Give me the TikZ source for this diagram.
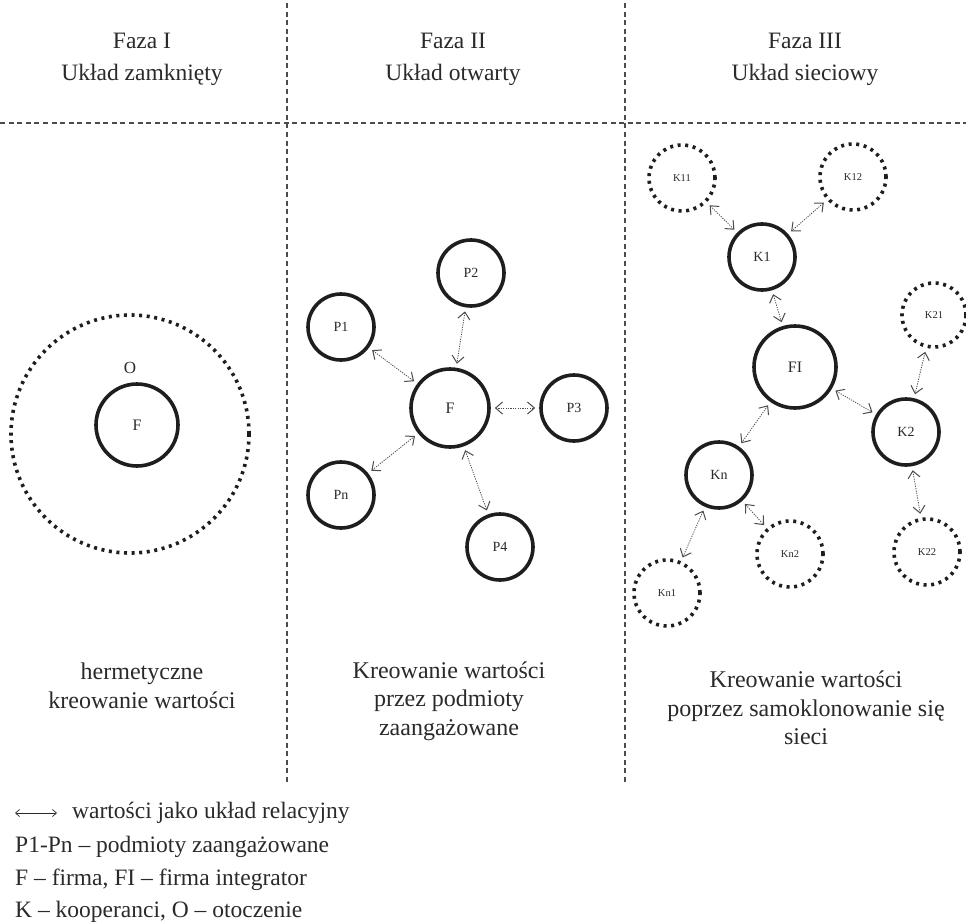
\documentclass[tikz,border=0pt]{standalone}
\usepackage{fontspec}
\setmainfont{Liberation Serif}
\usetikzlibrary{arrows.meta}
\definecolor{ink}{HTML}{1E1E1E}
\definecolor{txt}{HTML}{2A2A2A}
\tikzset{
  solidc/.style={circle, draw=ink, line width=3.6pt, inner sep=0pt, text=txt},
  dotc/.style={circle, draw=ink, line width=3.6pt, dash pattern=on 3pt off 4.6pt, inner sep=0pt, text=txt},
  divider/.style={draw=black!70, line width=1.1pt, dash pattern=on 5pt off 3.6pt},
  rel/.style={draw=black!70, line width=0.8pt, dash pattern=on 1.2pt off 1.2pt,
    {Straight Barb[length=7pt,width=12pt,line width=1pt]}-{Straight Barb[length=7pt,width=12pt,line width=1pt]},
    shorten <=4pt, shorten >=4pt},
  legarrow/.style={draw=txt, line width=0.7pt,
    {Straight Barb[length=4pt,width=7pt,line width=0.7pt]}-{Straight Barb[length=4pt,width=7pt,line width=0.7pt]}},
  big/.style={text=txt, font=\fontsize{23.5}{32}\selectfont, align=center, inner sep=0pt},
  bot/.style={text=txt, font=\fontsize{24}{28.5}\selectfont, align=center, inner sep=0pt},
  leg/.style={text=txt, font=\fontsize{23.5}{28}\selectfont, anchor=west, inner sep=0pt},
  lab/.style={font=\fontsize{14}{16}\selectfont},
  labF/.style={font=\fontsize{16}{18}\selectfont},
  labs/.style={font=\fontsize{10.5}{12}\selectfont},
}
\begin{document}
\begin{tikzpicture}[x=1pt,y=-1pt]
\useasboundingbox[fill=white] (0,0) rectangle (966,923);

% dividers
\draw[divider] (0,123) -- (966,123);
\draw[divider] (287,3) -- (287,783);
\draw[divider] (625,3) -- (625,783);

% headers
\node[big] (h1) at (142,59) {Faza I\\Układ zamknięty};
\node[big] (h2) at (453,59) {Faza II\\Układ otwarty};
\node[big] (h3) at (805,59) {Faza III\\Układ sieciowy};

% Phase I
\node[dotc, minimum size=238pt] (O) at (130,434) {};
\node[solidc, labF, minimum size=82pt] (F1) at (137,425) {F};
\node[text=txt, font=\fontsize{17}{19}\selectfont, inner sep=0pt] (Olab) at (130,368) {O};

% Phase II
\node[solidc, labF, minimum size=78pt] (F) at (450,408) {F};
\node[solidc, lab, minimum size=66pt] (P1) at (341,327) {P1};
\node[solidc, lab, minimum size=66pt] (P2) at (471,273) {P2};
\node[solidc, lab, minimum size=66pt] (P3) at (574,408) {P3};
\node[solidc, lab, minimum size=66pt] (Pn) at (341,495) {Pn};
\node[solidc, lab, minimum size=66pt] (P4) at (500,547) {P4};
\draw[rel] (P1) -- (F);
\draw[rel] (P2) -- (F);
\draw[rel] (F) -- (P3);
\draw[rel] (Pn) -- (F);
\draw[rel] (F) -- (P4);

% Phase III
\node[solidc, labF, minimum size=82pt] (FI) at (795,367) {FI};
\node[solidc, lab, minimum size=66pt] (K1) at (762,257) {K1};
\node[solidc, lab, minimum size=66pt] (K2) at (906,432) {K2};
\node[solidc, lab, minimum size=66pt] (Kn) at (719,475) {Kn};
\node[dotc, labs, minimum size=66pt] (K11) at (682,178) {K11};
\node[dotc, labs, minimum size=66pt] (K12) at (853,177) {K12};
\node[dotc, labs, minimum size=64pt] (K21) at (934,315) {K21};
\node[dotc, labs, minimum size=66pt] (K22) at (927,552) {K22};
\node[dotc, labs, minimum size=66pt] (Kn1) at (667,593) {Kn1};
\node[dotc, labs, minimum size=66pt] (Kn2) at (790,554) {Kn2};
\draw[rel] (K11) -- (K1);
\draw[rel] (K12) -- (K1);
\draw[rel] (K1) -- (FI);
\draw[rel] (FI) -- (K2);
\draw[rel] (FI) -- (Kn);
\draw[rel] (K21) -- (K2);
\draw[rel] (K2) -- (K22);
\draw[rel] (Kn) -- (Kn1);
\draw[rel] (Kn) -- (Kn2);

% bottom texts
\node[bot] (b1) at (142,686) {hermetyczne\\kreowanie wartości};
\node[bot] (b2) at (449,701) {Kreowanie wartości\\przez podmioty\\zaangażowane};
\node[bot] (b3) at (806,708) {Kreowanie wartości\\poprzez samoklonowanie się\\sieci};

% legend
\coordinate (la) at (15,813);
\coordinate (lb) at (57,813);
\draw[legarrow] (la) -- (lb);
\node[leg] (l1) at (72,813) {wartości jako układ relacyjny};
\node[leg] (l2) at (15,847) {P1-Pn – podmioty zaangażowane};
\node[leg] (l3) at (15,880) {F – firma, FI – firma integrator};
\node[leg] (l4) at (15,912) {K – kooperanci, O – otoczenie};
\end{tikzpicture}
\end{document}
